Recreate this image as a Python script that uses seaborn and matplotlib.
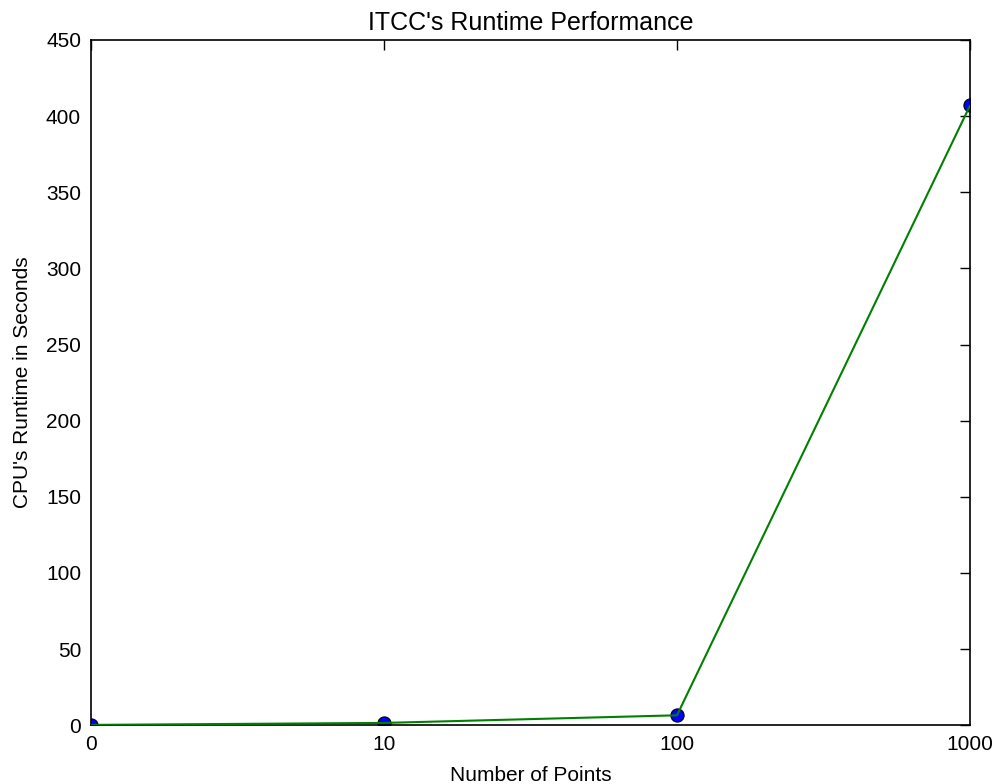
import matplotlib.pyplot as plt
import seaborn as sns
import pandas as pd

# number of points (shown as categorical positions) and runtime in seconds
point_labels = ["0", "10", "100", "1000"]
runtimes = [0.2, 1.5, 6.5, 407]

df = pd.DataFrame({"pos": range(len(point_labels)), "runtime": runtimes})

sns.set_style("white")
plt.rcParams["font.family"] = ["Liberation Sans", "DejaVu Sans"]
plt.rcParams["text.color"] = "black"
plt.rcParams["axes.labelcolor"] = "black"

fig = plt.figure(figsize=(9.98, 7.84), dpi=100)
ax = fig.add_axes([0.091, 0.075, 0.881, 0.874])

sns.scatterplot(data=df, x="pos", y="runtime", ax=ax, color="#0000ff",
                edgecolor="black", linewidth=0.8, s=90, zorder=2)
sns.lineplot(data=df, x="pos", y="runtime", ax=ax, color="#008000",
             linewidth=1.5, zorder=3)

ax.set_xlim(0, 3)
ax.set_ylim(0, 450)
ax.set_xticks(range(len(point_labels)))
ax.set_xticklabels(point_labels)
ax.set_yticks(range(0, 451, 50))
ax.tick_params(direction="in", top=True, right=True, length=7, width=1,
               labelsize=15, pad=7, colors="black")
for s in ax.spines.values():
    s.set_color("black")
    s.set_linewidth(1.2)

ax.set_title("ITCC's Runtime Performance", fontsize=18, pad=7)
ax.set_xlabel("Number of Points", fontsize=15, labelpad=9)
ax.set_ylabel("CPU's Runtime in Seconds", fontsize=15, labelpad=10)

fig.savefig("out.png", dpi=100)
